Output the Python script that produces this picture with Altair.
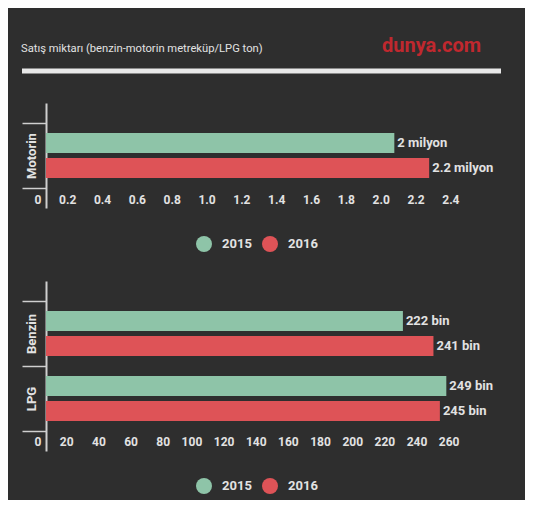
import altair as alt
import pandas as pd

# ---- data ----
years = ["2015", "2016"]
top_fuels = ["Motorin"]
top_2015 = [2.0]
top_2016 = [2.2]
top_labels_2015 = ["2 milyon"]
top_labels_2016 = ["2.2 milyon"]
top_ticks = [0, 0.2, 0.4, 0.6, 0.8, 1.0, 1.2, 1.4, 1.6, 1.8, 2.0, 2.2, 2.4]

bottom_fuels = ["Benzin", "LPG"]
bottom_2015 = [222, 249]
bottom_2016 = [241, 245]
bottom_labels_2015 = ["222 bin", "249 bin"]
bottom_labels_2016 = ["241 bin", "245 bin"]
bottom_ticks = [0, 20, 40, 60, 80, 100, 120, 140, 160, 180, 200, 220, 240, 260]

title_text = "Satış miktarı (benzin-motorin metreküp/LPG ton)"
brand_text = "dunya.com"

GREEN = "#8ec4a8"
RED = "#de5357"
BG = "#2e2e2e"
TXT = "#e2e2e2"
LINE = "#cfcfcf"
FONT = "Roboto"


def make_df(fuels, v15, v16, l15, l16):
    rows = []
    for f, a, b, la, lb in zip(fuels, v15, v16, l15, l16):
        rows.append({"fuel": f, "year": "2015", "value": a, "label": la})
        rows.append({"fuel": f, "year": "2016", "value": b, "label": lb})
    return pd.DataFrame(rows)


def panel(df, fuels, domain, ticks, label_expr, height, legend_y, axis_offset):
    base = alt.Chart(df)
    y_axis = alt.Axis(
        title=None,
        tickBand="extent",
        tickSize=24,
        tickColor=LINE,
        tickWidth=1.5,
        domainColor=LINE,
        domainWidth=2,
        labelAngle=270,
        labelAlign="center",
        labelBaseline="bottom",
        labelPadding=-16,
        labelFontSize=13,
        labelFontWeight="bold",
        labelColor=TXT,
        labelFont=FONT,
    )
    x_axis = alt.Axis(
        title=None,
        values=ticks,
        grid=False,
        domain=False,
        ticks=False,
        labelAlign="right",
        labelBaseline="top",
        tickOffset=-5,
        labelPadding=0,
        offset=axis_offset,
        labelFontSize=12,
        labelFontWeight="bold",
        labelColor=TXT,
        labelFont=FONT,
        labelExpr=label_expr,
        labelOverlap=False,
        labelFlush=False,
        labelSeparation=0,
    )
    y_scale = alt.Scale(paddingInner=0, paddingOuter=20 / 65)
    x_scale = alt.Scale(domain=domain, nice=False, zero=True)
    yoff = alt.YOffset(
        "year:N", sort=years, scale=alt.Scale(paddingInner=0.2, paddingOuter=0.4)
    )
    bars = base.mark_bar().encode(
        y=alt.Y("fuel:N", sort=fuels, scale=y_scale, axis=y_axis),
        yOffset=yoff,
        x=alt.X("value:Q", scale=x_scale, axis=x_axis),
        color=alt.Color(
            "year:N",
            scale=alt.Scale(domain=years, range=[GREEN, RED]),
            legend=alt.Legend(
                title=None,
                orient="none",
                legendX=150,
                legendY=legend_y,
                direction="horizontal",
                symbolType="circle",
                symbolSize=256,
                symbolStrokeWidth=0,
                symbolOpacity=1,
                labelFontSize=13,
                labelFontWeight="bold",
                labelColor=TXT,
                labelFont=FONT,
                labelOffset=10,
                columnPadding=10,
                padding=0,
            ),
        ),
    )
    texts = base.mark_text(
        align="left",
        baseline="middle",
        dx=3,
        fontSize=13,
        fontWeight="bold",
        color=TXT,
        font=FONT,
    ).encode(
        y=alt.Y("fuel:N", sort=fuels, scale=y_scale, axis=y_axis),
        yOffset=yoff,
        x=alt.X("value:Q", scale=x_scale, axis=x_axis),
        text="label:N",
    )
    return alt.layer(bars, texts).properties(width=418, height=height)


top_df = make_df(top_fuels, top_2015, top_2016, top_labels_2015, top_labels_2016)
bottom_df = make_df(bottom_fuels, bottom_2015, bottom_2016, bottom_labels_2015, bottom_labels_2016)

top = panel(
    top_df, top_fuels, [0, 2.4], top_ticks,
    "datum.value == 0 ? '0' : format(datum.value, '.1f')", 105, 133, -14,
)
bottom = panel(
    bottom_df, bottom_fuels, [0, 260], bottom_ticks,
    "format(datum.value, 'd')", 170, 197, -15,
)

head_df = pd.DataFrame({"t": [title_text]})
brand_df = pd.DataFrame({"t": [brand_text]})
header_title = alt.Chart(head_df).mark_text(
    align="left", baseline="alphabetic", fontSize=11.2, color=TXT, font=FONT
).encode(text="t:N", x=alt.value(-25), y=alt.value(-51))
header_brand = alt.Chart(brand_df).mark_text(
    align="left", baseline="alphabetic", fontSize=20, fontWeight="bold", color="#c0282e", font=FONT
).encode(text="t:N", x=alt.value(336), y=alt.value(-51))
header_rule = alt.Chart(head_df).mark_rule(color="#e8e8e8", strokeWidth=5).encode(
    x=alt.value(-24), x2=alt.value(455), y=alt.value(-32)
)

top_full = alt.layer(top, header_title, header_brand, header_rule)

chart = (
    alt.vconcat(top_full, bottom, spacing=29)
    .resolve_scale(color="independent", x="independent", y="independent", yOffset="independent")
    .configure(background=BG, padding={"left": 11, "top": 28, "right": 21, "bottom": 6})
    .configure_view(strokeWidth=0)
)

chart.save("out.html", embed_options={"renderer": "svg", "actions": False})
